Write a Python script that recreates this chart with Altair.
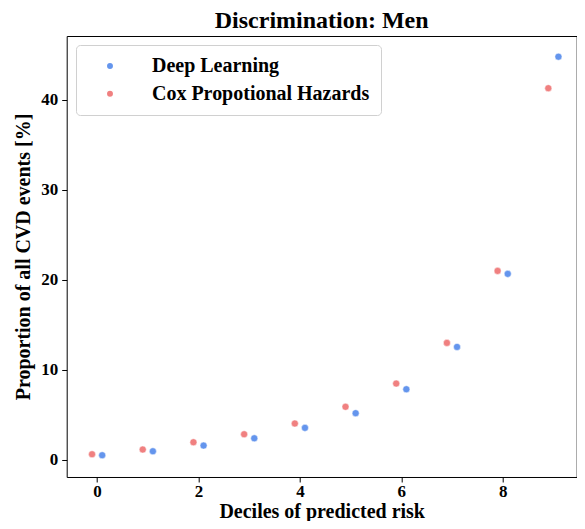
import altair as alt
import pandas as pd

dl_x = [0.1, 1.1, 2.1, 3.1, 4.1, 5.1, 6.1, 7.1, 8.1, 9.1]
cox_x = [-0.1, 0.9, 1.9, 2.9, 3.9, 4.9, 5.9, 6.9, 7.9, 8.9]
dl_values = [0.52, 0.96, 1.59, 2.40, 3.56, 5.19, 7.85, 12.55, 20.67, 44.8]
cox_values = [0.63, 1.15, 1.96, 2.85, 4.04, 5.90, 8.48, 13.0, 21.0, 41.3]
series = ["Deep Learning", "Cox Propotional Hazards"]
colors = ["#6495ED", "#F08080"]
x_ticks = [0, 2, 4, 6, 8]
y_ticks = [0, 10, 20, 30, 40]

rows = []
for x, v in zip(dl_x, dl_values):
    rows.append({"x": x, "y": v, "model": series[0]})
for x, v in zip(cox_x, cox_values):
    rows.append({"x": x, "y": v, "model": series[1]})
df = pd.DataFrame(rows)

FONT = "Liberation Serif"

chart = alt.Chart(df).mark_circle(size=50, opacity=1, stroke="white", strokeWidth=0.5).encode(
    x=alt.X("x:Q", scale=alt.Scale(domain=[-0.6, 9.46], nice=False, zero=False),
            axis=alt.Axis(values=x_ticks, title="Deciles of predicted risk", format="d")),
    y=alt.Y("y:Q", scale=alt.Scale(domain=[-1.9, 47.1], nice=False, zero=False),
            axis=alt.Axis(values=y_ticks, title="Proportion of all CVD events [%]", format="d")),
    color=alt.Color("model:N", scale=alt.Scale(domain=series, range=colors),
                    legend=alt.Legend(title=None, orient="none", legendX=9.3, legendY=9,
                                      fillColor="white", strokeColor="#d0d0d0", cornerRadius=4,
                                      padding=11, symbolOffset=13, labelOffset=32,
                                      rowPadding=7.7, symbolSize=55, symbolType="circle",
                                      labelLimit=400,
                                      labelFont=FONT, labelFontSize=20, labelFontWeight="bold",
                                      labelColor="black")),
).properties(
    width=510,
    height=441,
    title=alt.TitleParams("Discrimination: Men", font=FONT, fontSize=24, fontWeight="bold",
                          color="black", anchor="middle", offset=3),
    autosize=alt.AutoSizeParams(type="none"),
    padding={"left": 58.7, "top": 28, "right": 0, "bottom": 44},
).configure_view(
    stroke="black", strokeWidth=1
).configure_axis(
    grid=False, domain=False, tickColor="black", tickSize=5, tickWidth=1,
    labelFont=FONT, labelFontSize=17, labelFontWeight="bold", labelColor="black",
    titleFont=FONT, titleFontSize=20, titleFontWeight="bold", titleColor="black",
).configure_axisY(
    labelPadding=4, titlePadding=7
).configure_axisX(
    labelPadding=2, titlePadding=2
)

chart.save("out.html", embed_options={"renderer": "svg", "actions": False})
